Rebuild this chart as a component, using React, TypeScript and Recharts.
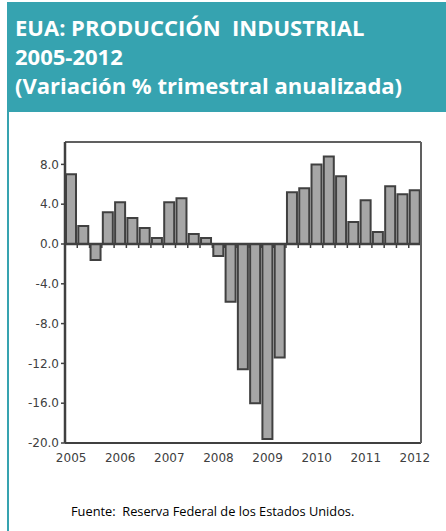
import React from "react";
import { BarChart, Bar, XAxis, YAxis, ReferenceLine } from "recharts";

const quarters = [
  "2005-I", "2005-II", "2005-III", "2005-IV",
  "2006-I", "2006-II", "2006-III", "2006-IV",
  "2007-I", "2007-II", "2007-III", "2007-IV",
  "2008-I", "2008-II", "2008-III", "2008-IV",
  "2009-I", "2009-II", "2009-III", "2009-IV",
  "2010-I", "2010-II", "2010-III", "2010-IV",
  "2011-I", "2011-II", "2011-III", "2011-IV",
  "2012-I",
];

const variation = [
  7.0, 1.8, -1.6, 3.2,
  4.2, 2.6, 1.6, 0.6,
  4.2, 4.6, 1.0, 0.6,
  -1.2, -5.8, -12.6, -16.0,
  -19.6, -11.4, 5.2, 5.6,
  8.0, 8.8, 6.8, 2.2,
  4.4, 1.2, 5.8, 5.0,
  5.4,
];

const yTicks = [-20, -16, -12, -8, -4, 0, 4, 8];

const titleLines = [
  "EUA: PRODUCCIÓN  INDUSTRIAL",
  "2005-2012",
  "(Variación % trimestral anualizada)",
];

const sourceNote = "Fuente:  Reserva Federal de los Estados Unidos.";

const data = quarters.map((q, i) => ({ q, v: variation[i] }));

const TEAL = "#36A3B0";
const DARK = "#404040";

const ZeroLine = (props: any) => {
  const { x1, y1, x2 } = props;
  const n = data.length;
  const step = (x2 - x1) / n;
  const ticks = [];
  for (let k = 1; k < n; k++) {
    const x = x1 + k * step;
    ticks.push(
      <line key={k} x1={x} x2={x} y1={y1} y2={y1 + 4} stroke={DARK} strokeWidth={1.5} />
    );
  }
  return (
    <g>
      <line x1={x1} x2={x2} y1={y1} y2={y1} stroke={DARK} strokeWidth={2.5} />
      {ticks}
    </g>
  );
};

export default function App() {
  return (
    <div
      style={{
        position: "absolute",
        left: 0,
        top: 0,
        width: 446,
        height: 531,
        background: "#fff",
        overflow: "hidden",
      }}
    >
      <div
        style={{
          position: "absolute",
          left: 7,
          top: 2,
          width: 439,
          height: 110,
          background: TEAL,
        }}
      />
      <div
        style={{
          position: "absolute",
          left: 7,
          top: 112,
          width: 2,
          height: 419,
          background: TEAL,
        }}
      />
      <div
        style={{
          position: "absolute",
          left: 15,
          top: 13,
          color: "#fff",
          fontFamily: "'Open Sans', sans-serif",
          fontWeight: 700,
          fontSize: 22,
          lineHeight: "29px",
          whiteSpace: "pre",
        }}
      >
        {titleLines.map((t) => (
          <div key={t}>{t}</div>
        ))}
      </div>
      <div style={{ position: "absolute", left: 0, top: 120 }}>
        <BarChart
          width={446}
          height={360}
          data={data}
          margin={{ top: 21, right: 24, bottom: 12, left: 15 }}
          barSize={10}
        >
          <XAxis
            dataKey="q"
            interval={3}
            tickLine={false}
            axisLine={{ stroke: DARK, strokeWidth: 2 }}
            tickFormatter={(v: string) => v.slice(0, 4)}
            tick={{ fill: DARK, fontSize: 12, fontFamily: "'DejaVu Sans', sans-serif" }}
            height={25}
            tickMargin={4}
          />
          <XAxis
            xAxisId="top"
            dataKey="q"
            orientation="top"
            tick={false}
            tickLine={false}
            height={1}
            axisLine={{ stroke: "#606060", strokeWidth: 2 }}
          />
          <YAxis
            domain={[-20, 10.25]}
            ticks={yTicks}
            allowDataOverflow
            width={50}
            tickFormatter={(v: number) => v.toFixed(1)}
            tick={{ fill: DARK, fontSize: 12, fontFamily: "'DejaVu Sans', sans-serif" }}
            tickLine={{ stroke: DARK, strokeWidth: 1.5 }}
            tickSize={4}
            axisLine={{ stroke: DARK, strokeWidth: 2.5 }}
          />
          <YAxis
            yAxisId="right"
            orientation="right"
            tick={false}
            tickLine={false}
            width={1}
            axisLine={{ stroke: "#606060", strokeWidth: 2 }}
          />
          <Bar
            dataKey="v"
            fill="#A6A6A6"
            stroke={DARK}
            strokeWidth={2}
            isAnimationActive={false}
          />
          <ReferenceLine y={0} shape={ZeroLine} ifOverflow="visible" />
        </BarChart>
      </div>
      <div
        style={{
          position: "absolute",
          left: 71,
          top: 502,
          color: "#000",
          fontFamily: "'Open Sans', sans-serif",
          fontSize: 12.8,
          whiteSpace: "pre",
        }}
      >
        {sourceNote}
      </div>
    </div>
  );
}
